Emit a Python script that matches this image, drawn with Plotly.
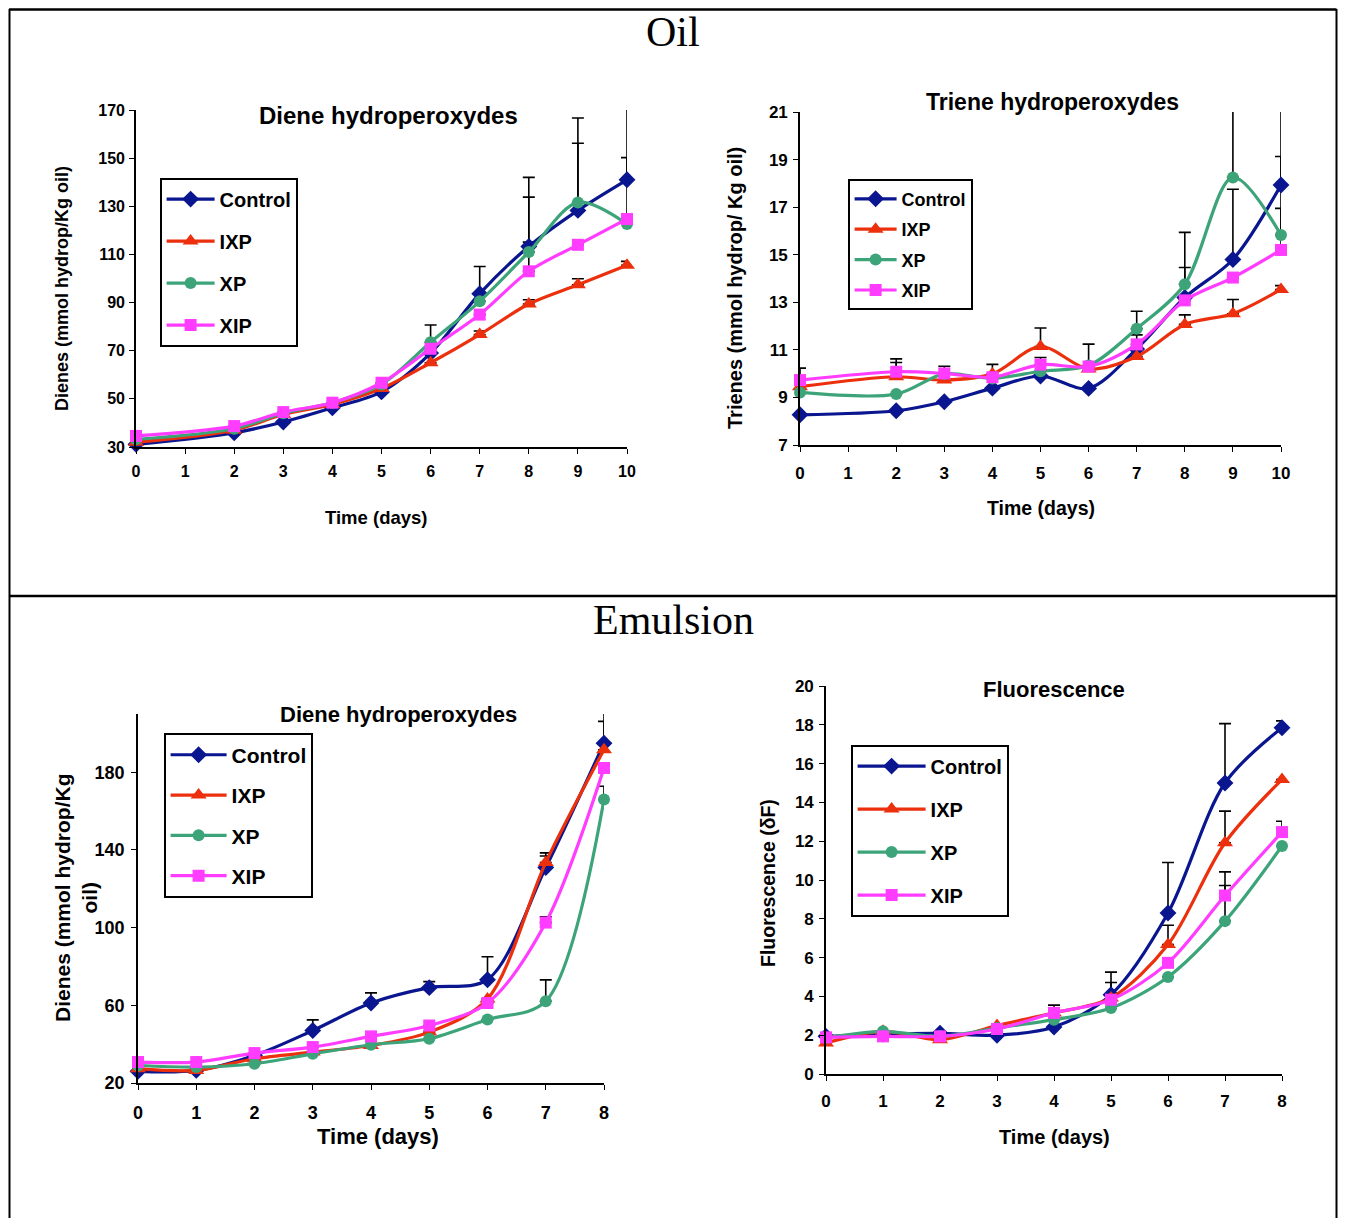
import plotly.graph_objects as go

PAGE_W, PAGE_H = 1346, 1226
OFF = 8  # default body margin of the html page
W, H = PAGE_W - 2 * OFF, PAGE_H - 2 * OFF

# ---------------- data ----------------
series_names = ["Control", "IXP", "XP", "XIP"]

oil_days = [0, 2, 3, 4, 5, 6, 7, 8, 9, 10]
oil_diene_control = [31.1, 35.9, 40.4, 46.3, 52.9, 69.0, 93.7, 113.3, 128.3, 141.0]
oil_diene_ixp = [32.0, 37.0, 43.5, 47.7, 54.3, 65.0, 76.7, 89.4, 97.4, 105.5]
oil_diene_xp = [33.2, 37.6, 44.0, 48.4, 56.0, 73.5, 90.5, 111.0, 131.6, 122.6]
oil_diene_xip = [34.6, 38.7, 44.5, 48.4, 56.7, 70.8, 85.0, 103.0, 114.0, 124.7]
oil_diene_err_control = [None, None, None, None, None, None, 11.3, 20.5, 27.9, 31.5]
oil_diene_err_ixp = [None, None, None, None, None, None, 1.5, 1.8, 2.5, 1.6]
oil_diene_err_xp = [None, None, None, None, None, 7.2, None, 31.0, 35.1, 27.6]
oil_diene_err_xip = [None, None, None, None, None, None, None, 12.1, None, None]

oil_triene_control = [8.27, 8.44, 8.82, 9.39, 9.90, 9.38, 11.04, 13.20, 14.80, 17.93]
oil_triene_ixp = [9.45, 9.87, 9.73, 9.99, 11.14, 10.20, 10.72, 12.07, 12.52, 13.54]
oil_triene_xp = [9.21, 9.14, 9.99, 9.80, 10.10, 10.34, 11.89, 13.76, 18.25, 15.83]
oil_triene_xip = [9.73, 10.08, 10.01, 9.85, 10.38, 10.30, 11.23, 13.08, 14.04, 15.20]
oil_triene_err_control = [None, None, None, None, None, None, None, 1.26, 2.95, 3.4]
oil_triene_err_ixp = [None, 0.6, None, 0.4, 0.78, None, None, 0.4, 0.6, 0.16]
oil_triene_err_xp = [None, None, None, None, None, 0.9, 0.73, 2.18, 3.05, 3.3]
oil_triene_err_xip = [0.5, 0.54, 0.3, None, 0.3, None, 0.4, None, None, 1.75]

emu_days = [0, 1, 2, 3, 4, 5, 6, 7, 8]
emu_diene_control = [26.0, 26.5, 34.2, 47.0, 61.2, 69.1, 73.2, 130.9, 195.0]
emu_diene_ixp = [27.4, 26.5, 32.5, 35.9, 39.3, 46.2, 63.3, 133.5, 191.6]
emu_diene_xp = [29.0, 28.2, 29.9, 35.0, 39.7, 42.8, 52.7, 62.1, 166.0]
emu_diene_xip = [30.8, 30.8, 35.4, 38.5, 44.0, 49.6, 61.2, 102.6, 182.2]
emu_diene_err_control = [None, None, None, 5.5, 5.2, 3.1, 11.8, 6.0, 17.0]
emu_diene_err_ixp = [None, None, None, None, None, None, None, 5.0, 14.6]
emu_diene_err_xp = [None, None, None, None, None, None, None, 11.0, 6.8]
emu_diene_err_xip = [None, None, None, None, None, None, None, 3.0, None]

emu_fluo_control = [1.94, 2.06, 2.10, 2.00, 2.42, 4.09, 8.30, 15.00, 17.85]
emu_fluo_ixp = [1.60, 2.20, 1.77, 2.50, 3.15, 3.92, 6.67, 11.92, 15.18]
emu_fluo_xp = [1.86, 2.20, 1.94, 2.37, 2.80, 3.40, 5.00, 7.88, 11.75]
emu_fluo_xip = [1.89, 1.94, 1.94, 2.32, 3.15, 3.83, 5.73, 9.20, 12.47]
emu_fluo_err_control = [None, None, None, None, None, 1.16, 2.6, 3.06, 0.35]
emu_fluo_err_ixp = [None, None, None, None, None, 0.8, 1.0, 1.63, None]
emu_fluo_err_xp = [None, None, None, None, None, None, None, 1.84, None]
emu_fluo_err_xip = [None, None, None, None, 0.4, None, None, 1.22, 0.56]

oil_diene_yticks = [30, 50, 70, 90, 110, 130, 150, 170]
oil_triene_yticks = [7, 9, 11, 13, 15, 17, 19, 21]
emu_diene_yticks = [20, 60, 100, 140, 180]
emu_fluo_yticks = [0, 2, 4, 6, 8, 10, 12, 14, 16, 18, 20]
oil_xticks = list(range(0, 11))
emu_xticks = list(range(0, 9))

# ---------------- styles ----------------
colors = ["#0A168F", "#EC2F0C", "#3DA47A", "#FF3CFF"]
symbols = ["diamond", "triangle-up", "circle", "square"]
msizes = [13, 14, 12, 12]
SANS = "Arial, Liberation Sans, sans-serif"
SERIF = "Times New Roman, Liberation Serif, serif"


def px(x):
    return (x - OFF) / W


def py(y):
    return 1 - (y - OFF) / H


panels = [
    dict(days=oil_days, vals=[oil_diene_control, oil_diene_ixp, oil_diene_xp, oil_diene_xip],
         errs=[oil_diene_err_control, oil_diene_err_ixp, oil_diene_err_xp, oil_diene_err_xip],
         xpx=(136, 627), ypx=(110, 447), yrange=(30, 170), yticks=oil_diene_yticks,
         xrange=(0, 10), xticks=oil_xticks, tick=16, xstand=4, ystand=1,
         title="Diene hydroperoxydes", tpos=(388, 116), tsize=24,
         ytitle="Dienes (mmol hydrop/Kg oil)", ytpos=(62, 289), ytsize=18,
         xtpos=(376, 518), xtsize=18.5,
         leg=dict(pos=(160, 178), size=20, gap=13, iw=48)),
    dict(days=oil_days, vals=[oil_triene_control, oil_triene_ixp, oil_triene_xp, oil_triene_xip],
         errs=[oil_triene_err_control, oil_triene_err_ixp, oil_triene_err_xp, oil_triene_err_xip],
         xpx=(800, 1281), ypx=(112, 445), yrange=(7, 21), yticks=oil_triene_yticks,
         xrange=(0, 10), xticks=oil_xticks, tick=17, xstand=7, ystand=2,
         title="Triene hydroperoxydes", tpos=(1052, 102), tsize=23,
         ytitle="Trienes (mmol hydrop/ Kg oil)", ytpos=(735, 288), ytsize=20,
         xtpos=(1041, 508), xtsize=19.5,
         leg=dict(pos=(848, 179), size=18, gap=4, iw=42)),
    dict(days=emu_days, vals=[emu_diene_control, emu_diene_ixp, emu_diene_xp, emu_diene_xip],
         errs=[emu_diene_err_control, emu_diene_err_ixp, emu_diene_err_xp, emu_diene_err_xip],
         xpx=(138, 604), ypx=(714, 1083), yrange=(20, 210), yticks=emu_diene_yticks,
         xrange=(0, 8), xticks=emu_xticks, tick=18, xstand=8, ystand=3,
         title="Diene hydroperoxydes", tpos=(399, 714), tsize=22,
         ytitle="Dienes (mmol hydrop/Kg<br>oil)", ytpos=(76, 898), ytsize=21,
         xtpos=(378, 1136), xtsize=22,
         leg=dict(pos=(164, 733), size=21, gap=10, iw=56)),
    dict(days=emu_days, vals=[emu_fluo_control, emu_fluo_ixp, emu_fluo_xp, emu_fluo_xip],
         errs=[emu_fluo_err_control, emu_fluo_err_ixp, emu_fluo_err_xp, emu_fluo_err_xip],
         xpx=(826, 1282), ypx=(686, 1074), yrange=(0, 20), yticks=emu_fluo_yticks,
         xrange=(0, 8), xticks=emu_xticks, tick=17, xstand=6, ystand=2,
         title="Fluorescence", tpos=(1054, 689), tsize=22,
         ytitle="Fluorescence (δF)", ytpos=(768, 883), ytsize=19.5,
         xtpos=(1054, 1137), xtsize=20,
         leg=dict(pos=(851, 745), size=20, gap=14, iw=68)),
]

fig = go.Figure()
layout = dict(width=W, height=H, margin=dict(l=0, r=0, t=0, b=0, autoexpand=False),
              paper_bgcolor="white", plot_bgcolor="rgba(0,0,0,0)",
              showlegend=True, annotations=[], shapes=[])

for i, p in enumerate(panels):
    k = "" if i == 0 else str(i + 1)
    xa, ya = "x" + k, "y" + k
    lg = "legend" + k
    # error bars (behind the series)
    for j in range(4):
        n = len(p["days"])
        fig.add_trace(go.Scatter(
            x=p["days"], y=p["vals"][j], mode="markers", xaxis=xa, yaxis=ya,
            marker=dict(size=1, color="rgba(0,0,0,0)"),
            error_y=dict(type="data", symmetric=False, array=p["errs"][j],
                         arrayminus=[0] * n, color="black", thickness=1.6, width=6),
            showlegend=False, hoverinfo="skip", cliponaxis=False))
    for j in range(4):
        fig.add_trace(go.Scatter(
            x=p["days"], y=p["vals"][j], mode="lines+markers", name=series_names[j],
            xaxis=xa, yaxis=ya, legend=lg, legendgroup=f"p{i}_{j}",
            line=dict(color=colors[j], width=3.2, shape="spline", smoothing=0.9),
            marker=dict(symbol=symbols[j], size=msizes[j], color=colors[j],
                        line=dict(width=0)),
            cliponaxis=False))
    axis_common = dict(showline=True, linecolor="black", linewidth=1.6, ticks="outside",
                       ticklen=5, tickwidth=1.4, tickcolor="black", showgrid=False,
                       zeroline=False, automargin=False,
                       tickfont=dict(family=SANS, size=p["tick"], color="black", weight="bold"))
    layout["xaxis" + k] = dict(axis_common, domain=[px(p["xpx"][0]), px(p["xpx"][1])],
                               range=list(p["xrange"]), tickvals=p["xticks"],
                               ticklabelstandoff=p["xstand"], anchor=ya)
    layout["yaxis" + k] = dict(axis_common, domain=[py(p["ypx"][1]), py(p["ypx"][0])],
                               range=list(p["yrange"]), tickvals=p["yticks"],
                               ticklabelstandoff=p["ystand"], anchor=xa)
    L = p["leg"]
    layout[lg] = dict(x=px(L["pos"][0]), y=py(L["pos"][1]), xanchor="left", yanchor="top",
                      xref="paper", yref="paper",
                      bgcolor="white", bordercolor="black", borderwidth=1.6,
                      font=dict(family=SANS, size=L["size"], color="black", weight="bold"),
                      tracegroupgap=L["gap"], itemwidth=L["iw"], traceorder="grouped")
    layout["annotations"] += [
        dict(text=p["title"], x=px(p["tpos"][0]), y=py(p["tpos"][1]), xref="paper", yref="paper",
             showarrow=False, xanchor="center", yanchor="middle",
             font=dict(family=SANS, size=p["tsize"], color="black", weight="bold")),
        dict(text=p["ytitle"], x=px(p["ytpos"][0]), y=py(p["ytpos"][1]), xref="paper", yref="paper",
             showarrow=False, xanchor="center", yanchor="middle", textangle=-90,
             font=dict(family=SANS, size=p["ytsize"], color="black", weight="bold")),
        dict(text="Time (days)", x=px(p["xtpos"][0]), y=py(p["xtpos"][1]), xref="paper", yref="paper",
             showarrow=False, xanchor="center", yanchor="middle",
             font=dict(family=SANS, size=p["xtsize"], color="black", weight="bold")),
    ]

# section headers
layout["annotations"] += [
    dict(text="Oil", x=px(673), y=py(32), xref="paper", yref="paper", showarrow=False,
         xanchor="center", yanchor="middle", font=dict(family=SERIF, size=42, color="black")),
    dict(text="Emulsion", x=px(673), y=py(620), xref="paper", yref="paper", showarrow=False,
         xanchor="center", yanchor="middle", font=dict(family=SERIF, size=42, color="black")),
]

# frame
frame = dict(color="black", width=2.5)
RIGHT = OFF + W - 1.5
layout["shapes"] += [
    dict(type="line", xref="paper", yref="paper", x0=px(9), x1=px(RIGHT), y0=py(9.5), y1=py(9.5), line=frame),
    dict(type="line", xref="paper", yref="paper", x0=px(9), x1=px(RIGHT), y0=py(596), y1=py(596), line=frame),
    dict(type="line", xref="paper", yref="paper", x0=px(9.5), x1=px(9.5), y0=py(9), y1=0, line=dict(color="black", width=2)),
    dict(type="line", xref="paper", yref="paper", x0=px(RIGHT), x1=px(RIGHT), y0=py(9), y1=0, line=dict(color="black", width=2)),
]

fig.update_layout(**layout)
fig.write_html("out.html", config={"displayModeBar": False})
